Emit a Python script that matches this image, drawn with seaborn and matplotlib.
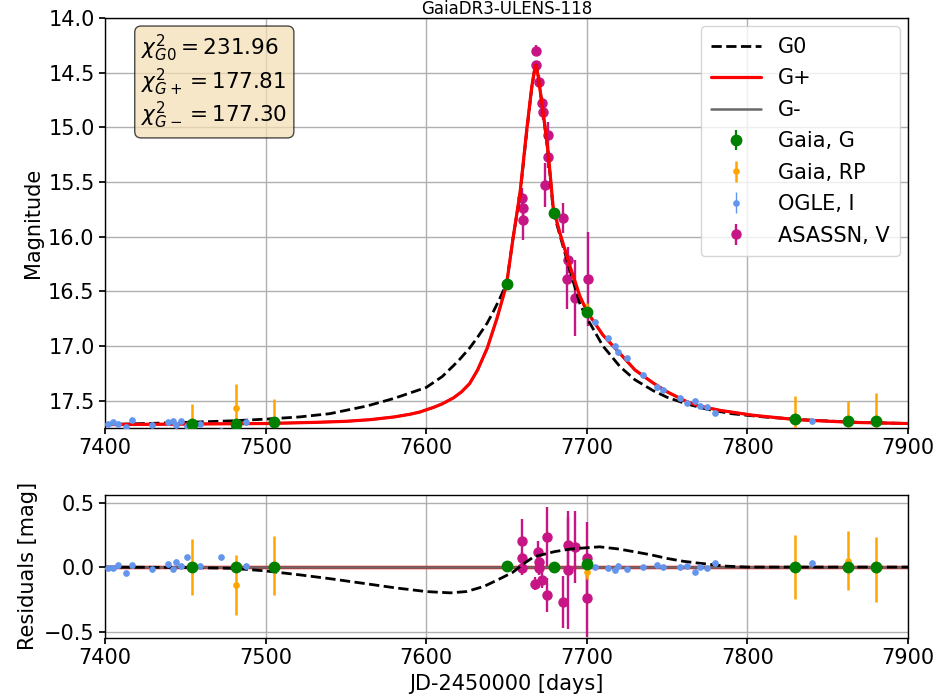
import matplotlib
matplotlib.use("Agg")
import matplotlib.pyplot as plt
import seaborn as sns
import numpy as np

# ---------------- data ----------------
title = "GaiaDR3-ULENS-118"

# model curves (main panel)
gplus_t = [7400, 7450, 7500, 7530, 7550, 7565, 7580, 7590, 7596, 7600, 7605, 7610, 7617, 7622,
           7627, 7632, 7638, 7644, 7650, 7654, 7658.4, 7662.6, 7665.7, 7667.5, 7668.4, 7669.8,
           7672.9, 7676.0, 7679.1, 7683.3, 7689.5, 7695.8, 7700.3, 7710, 7720.7, 7730, 7741.4,
           7750, 7762.2, 7770, 7783, 7803.7, 7830.7, 7866, 7900]
gplus_m = [17.72, 17.715, 17.71, 17.70, 17.69, 17.675, 17.65, 17.625, 17.605, 17.585, 17.56, 17.53,
           17.475, 17.42, 17.345, 17.22, 17.02, 16.75, 16.44, 16.02, 15.60, 15.02, 14.63, 14.47,
           14.43, 14.54, 14.87, 15.24, 15.74, 15.97, 16.27, 16.55, 16.69, 16.90, 17.07, 17.22,
           17.34, 17.42, 17.51, 17.55, 17.59, 17.635, 17.675, 17.70, 17.71]

g0_t = [7400, 7450, 7480, 7500, 7521, 7540, 7563, 7580, 7590, 7600, 7610, 7617, 7621, 7627,
        7632, 7638, 7642, 7646, 7650, 7654, 7658.4, 7662.6, 7665.7, 7667.5, 7668.4, 7669.8,
        7672.9, 7676.0, 7679.1, 7683.3, 7689.5, 7695.8, 7700.3, 7710, 7720.7, 7730, 7741.4,
        7750, 7762, 7775, 7790, 7810, 7840, 7870, 7900]
g0_m = [17.72, 17.70, 17.685, 17.67, 17.65, 17.62, 17.55, 17.48, 17.43, 17.38, 17.28, 17.18,
        17.12, 17.02, 16.92, 16.79, 16.68, 16.56, 16.43, 16.02, 15.62, 15.04, 14.64, 14.47,
        14.43, 14.54, 14.88, 15.25, 15.77, 15.99, 16.31, 16.62, 16.75, 17.00, 17.19, 17.31,
        17.41, 17.47, 17.53, 17.58, 17.62, 17.65, 17.68, 17.70, 17.71]

# residual curves
res_g0_t = [7400, 7450, 7480, 7500, 7521, 7540, 7563, 7580, 7600, 7615, 7625, 7636, 7646, 7654,
            7660, 7667, 7680, 7690, 7700, 7708, 7720, 7729, 7740, 7750, 7760, 7770, 7787, 7800, 7900]
res_g0_v = [0.0, -0.003, -0.01, -0.03, -0.06, -0.09, -0.13, -0.16, -0.19, -0.20, -0.19, -0.15,
            -0.09, -0.04, 0.02, 0.08, 0.12, 0.14, 0.15, 0.157, 0.14, 0.12, 0.095, 0.067, 0.045,
            0.03, 0.007, 0.0, 0.0]
res_flat_t = [7400, 7900]
res_flat_v = [0.0, 0.0]

# Gaia G
gaiaG_t = [7454, 7481.5, 7505.5, 7650, 7679.5, 7700, 7829.6, 7862.6, 7880]
gaiaG_m = [17.71, 17.71, 17.70, 16.43, 15.78, 16.69, 17.67, 17.69, 17.69]
gaiaG_e = [0.02, 0.02, 0.02, 0.02, 0.02, 0.02, 0.02, 0.02, 0.02]
gaiaG_r = [0.0, 0.0, 0.0, 0.01, 0.0, 0.02, 0.0, 0.0, 0.0]

# Gaia RP
gaiaRP_t = [7454, 7481.5, 7505.5, 7700, 7829.6, 7862.6, 7880]
gaiaRP_m = [17.71, 17.57, 17.70, 16.66, 17.67, 17.69, 17.69]
gaiaRP_e = [0.18, 0.22, 0.21, 0.05, 0.21, 0.19, 0.26]
gaiaRP_r = [0.0, -0.14, 0.01, -0.04, 0.0, 0.05, -0.02]
gaiaRP_re = [0.22, 0.23, 0.23, 0.05, 0.25, 0.23, 0.25]

# OGLE I
ogle_t = [7402, 7405, 7408, 7413, 7417, 7429, 7439, 7442, 7444, 7447, 7451, 7459, 7472, 7488,
          7705.1, 7713.4, 7717.6, 7719.6, 7724.8, 7735.2, 7743.5, 7747.6, 7758, 7762.2, 7767.4,
          7770.5, 7774.7, 7779.8, 7840.4]
ogle_m = [17.71, 17.70, 17.71, 17.74, 17.68, 17.72, 17.70, 17.69, 17.72, 17.69, 17.73, 17.71,
          17.78, 17.70, 16.78, 16.93, 17.00, 17.06, 17.11, 17.27, 17.38, 17.40, 17.48, 17.52,
          17.50, 17.55, 17.56, 17.61, 17.69]
ogle_r = [-0.01, -0.01, 0.015, -0.044, 0.015, -0.018, 0.023, -0.018, 0.04, 0.008, 0.075, 0.008,
          0.075, 0.008, -0.003, -0.01, -0.023, 0.008, -0.018, -0.003, 0.016, -0.003, 0.0, 0.008,
          -0.036, 0.0, -0.01, 0.028, 0.03]
ogle_e = [0.02] * 29

# ASAS-SN V
asas_t = [7659.5, 7660.5, 7660.0, 7668.4, 7668.4, 7670.4, 7671.9, 7672.5, 7676.0, 7676.0,
          7674.0, 7685.4, 7688.5, 7687.5, 7692.6, 7700.5]
asas_m = [15.65, 15.74, 15.85, 14.30, 14.43, 14.58, 14.78, 14.86, 15.07, 15.27, 15.53, 15.83,
          16.21, 16.39, 16.56, 16.39]
asas_e = [0.10, 0.08, 0.18, 0.05, 0.04, 0.06, 0.06, 0.07, 0.12, 0.10, 0.20, 0.14, 0.12, 0.27,
          0.35, 0.43]
asas_rt = [7659.4, 7659.4, 7659.4, 7667.7, 7669.8, 7670.5, 7670.0, 7671.9, 7675.0, 7675.0,
           7685.4, 7688.5, 7688.5, 7692.7, 7700.3, 7700.3]
asas_r = [0.20, 0.07, -0.01, -0.13, 0.12, 0.04, -0.01, -0.10, 0.235, -0.217, -0.27, 0.17,
          -0.023, 0.157, 0.067, -0.243]
asas_re = [0.17, 0.05, 0.05, 0.05, 0.08, 0.05, 0.05, 0.06, 0.23, 0.13, 0.20, 0.22, 0.46,
           0.28, 0.28, 0.30]

chi_labels = [r"$\chi^2_{G0} = 231.96$", r"$\chi^2_{G+} = 177.81$", r"$\chi^2_{G-} = 177.30$"]

# ---------------- styling ----------------
sns.set_theme(style="ticks")
plt.rcParams["font.family"] = ["DejaVu Sans"]
FS = 15
plt.rcParams.update({
    "font.size": FS,
    "axes.labelsize": FS,
    "xtick.labelsize": FS,
    "ytick.labelsize": FS,
    "legend.fontsize": FS,
    "axes.edgecolor": "black",
    "axes.linewidth": 1.0,
    "xtick.color": "black",
    "ytick.color": "black",
    "xtick.major.size": 4,
    "ytick.major.size": 4,
    "text.color": "black",
    "axes.labelcolor": "black",
})

C_G = "green"
C_RP = "orange"
C_OGLE = "cornflowerblue"
C_ASAS = "mediumvioletred"

fig = plt.figure(figsize=(9.38, 6.98), dpi=100)
ax = fig.add_axes([0.112, 0.387, 0.856, 0.587])
axr = fig.add_axes([0.112, 0.086, 0.856, 0.205])

# ---------------- main panel ----------------
sns.lineplot(x=g0_t, y=g0_m, ax=ax, color="black", linestyle="--", lw=2,
             label="G0", sort=False, estimator=None, zorder=3)
sns.lineplot(x=gplus_t, y=gplus_m, ax=ax, color="red", lw=2.3,
             label="G+", sort=False, estimator=None, zorder=3.2)
sns.lineplot(x=gplus_t, y=gplus_m, ax=ax, color="dimgray", lw=1.8,
             label="G-", sort=False, estimator=None, zorder=3.1)

ax.errorbar(asas_t, asas_m, yerr=asas_e, fmt="o", color=C_ASAS, ms=6.5, elinewidth=1.7,
            label="ASASSN, V", zorder=2)
ax.errorbar(ogle_t, ogle_m, yerr=ogle_e, fmt="o", color=C_OGLE, ms=3.8, elinewidth=1.0,
            label="OGLE, I", zorder=4)
ax.errorbar(gaiaRP_t, gaiaRP_m, yerr=gaiaRP_e, fmt="o", color=C_RP, ms=3.8, elinewidth=1.8,
            label="Gaia, RP", zorder=4.5)
ax.errorbar(gaiaG_t, gaiaG_m, yerr=gaiaG_e, fmt="o", color=C_G, ms=7.5, elinewidth=1.6,
            label="Gaia, G", zorder=5)

ax.set_xlim(7400, 7900)
ax.set_ylim(17.75, 14.0)
ax.set_yticks([14.0, 14.5, 15.0, 15.5, 16.0, 16.5, 17.0, 17.5])
ax.set_xticks([7400, 7500, 7600, 7700, 7800, 7900])
ax.grid(True, color="#b0b0b0", lw=1.0)
ax.set_ylabel("Magnitude")
ax.set_xlabel("")
ax.set_title(title, fontsize=12, pad=1.5)

handles, labels = ax.get_legend_handles_labels()
order = ["G0", "G+", "G-", "Gaia, G", "Gaia, RP", "OGLE, I", "ASASSN, V"]
hmap = dict(zip(labels, handles))
ax.legend([hmap[k] for k in order], order, loc="upper right", frameon=True,
          fancybox=True, framealpha=0.8, edgecolor="#cccccc", borderpad=0.5,
          handlelength=2.4, labelspacing=0.55, borderaxespad=0.4)

ax.text(0.045, 0.965, "\n".join(chi_labels), transform=ax.transAxes, va="top", ha="left",
        fontsize=15.5, linespacing=1.12,
        bbox=dict(boxstyle="round,pad=0.3", facecolor="wheat", alpha=0.7, edgecolor="black"))

# ---------------- residual panel ----------------
sns.lineplot(x=res_g0_t, y=res_g0_v, ax=axr, color="black", linestyle="--", lw=2,
             sort=False, estimator=None, zorder=4)
sns.lineplot(x=res_flat_t, y=res_flat_v, ax=axr, color="red", lw=2.5,
             sort=False, estimator=None, zorder=2)
sns.lineplot(x=res_flat_t, y=res_flat_v, ax=axr, color="dimgray", lw=1.8,
             sort=False, estimator=None, zorder=2.1)
axr.errorbar(asas_rt, asas_r, yerr=asas_re, fmt="o", color=C_ASAS, ms=6.5, elinewidth=1.7, zorder=3)
axr.errorbar(ogle_t, ogle_r, yerr=ogle_e, fmt="o", color=C_OGLE, ms=3.8, elinewidth=1.0, zorder=4)
axr.errorbar(gaiaRP_t, gaiaRP_r, yerr=gaiaRP_re, fmt="o", color=C_RP, ms=3.8, elinewidth=1.8, zorder=4.5)
axr.errorbar(gaiaG_t, gaiaG_r, yerr=gaiaG_e, fmt="o", color=C_G, ms=7.5, elinewidth=1.6, zorder=5)

axr.set_xlim(7400, 7900)
axr.set_ylim(-0.55, 0.56)
axr.set_yticks([-0.5, 0.0, 0.5])
axr.set_xticks([7400, 7500, 7600, 7700, 7800, 7900])
axr.grid(True, color="#b0b0b0", lw=1.0)
axr.set_ylabel("Residuals [mag]")
axr.set_xlabel("JD-2450000 [days]")
if axr.get_legend() is not None:
    axr.get_legend().remove()

fig.savefig("out.png", dpi=100)
